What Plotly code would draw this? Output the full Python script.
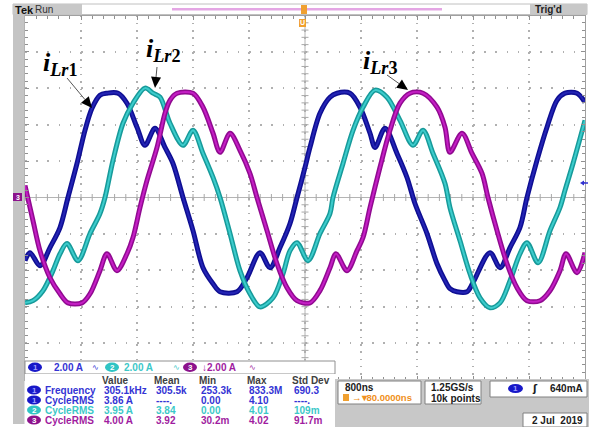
import numpy as np
import plotly.graph_objects as go

# ---------------- data (time in microseconds, current in A) ----------------
t_ch1 = [0.000, 0.071, 0.214, 0.357, 0.500, 0.614, 0.743, 0.857, 0.957, 1.071, 1.171, 1.329,
         1.457, 1.600, 1.714, 1.857, 2.000, 2.114, 2.257, 2.400, 2.543, 2.686, 2.786, 3.029,
         3.171, 3.357, 3.500, 3.643, 3.786, 3.886, 4.000, 4.071, 4.214, 4.357, 4.457, 4.643,
         4.786, 4.929, 5.000, 5.143, 5.314, 5.457, 5.571, 5.743, 5.886, 6.000, 6.071, 6.171,
         6.314, 6.400, 6.643, 6.786, 6.929, 7.071, 7.171, 7.314, 7.457, 7.600, 7.714, 7.886, 8.000]
i_ch1 = [-3.47, -3.03, -3.75, -2.75, -1.65, 0.00, 1.87, 3.69, 4.90, 5.62, 5.73, 5.73,
         5.18, 3.86, 2.87, 3.80, 2.75, 1.87, 0.00, -1.82, -3.86, -4.74, -5.18, -5.18,
         -4.41, -3.03, -3.86, -2.75, -1.43, 0.00, 1.65, 2.75, 4.63, 5.51, 5.73, 5.73,
         4.96, 3.53, 2.75, 3.80, 2.42, 1.10, -0.33, -1.98, -3.64, -4.57, -5.01, -5.18,
         -5.18, -4.68, -3.03, -3.86, -2.75, -1.65, 0.00, 2.04, 3.86, 5.34, 5.73, 5.73, 5.23]

t_ch2 = [0.000, 0.114, 0.257, 0.400, 0.500, 0.600, 0.757, 0.929, 1.071, 1.143, 1.257, 1.400,
         1.543, 1.714, 1.829, 1.929, 2.071, 2.257, 2.400, 2.543, 2.686, 2.786, 2.929, 3.071,
         3.214, 3.357, 3.543, 3.686, 3.786, 3.886, 4.043, 4.214, 4.357, 4.400, 4.543, 4.686,
         4.829, 5.000, 5.171, 5.357, 5.543, 5.686, 5.829, 6.000, 6.071, 6.214, 6.357, 6.500,
         6.643, 6.786, 6.929, 7.071, 7.171, 7.329, 7.500, 7.643, 7.714, 7.829, 8.000]
i_ch2 = [-5.79, -5.67, -5.12, -4.02, -3.09, -2.53, -3.47, -1.98, -0.88, 0.00, 2.04, 4.08,
         5.18, 6.01, 5.73, 5.51, 4.08, 2.87, 3.69, 2.42, 1.10, 0.00, -1.98, -4.02,
         -5.29, -6.01, -5.51, -4.19, -2.92, -2.48, -3.47, -1.98, -0.88, 0.00, 1.87, 3.69,
         4.96, 5.90, 5.51, 4.24, 2.87, 3.69, 2.42, 0.77, -0.55, -2.37, -4.19, -5.51,
         -6.06, -5.79, -4.57, -3.09, -2.48, -3.58, -1.82, -0.55, 0.39, 1.87, 4.24]

t_ch3 = [0.000, 0.114, 0.214, 0.357, 0.500, 0.614, 0.814, 0.929, 1.071, 1.171, 1.314, 1.457,
         1.543, 1.643, 1.743, 1.886, 2.000, 2.071, 2.171, 2.400, 2.543, 2.686, 2.786, 2.929,
         3.071, 3.214, 3.314, 3.457, 3.600, 3.743, 3.886, 4.071, 4.214, 4.357, 4.443, 4.600,
         4.743, 4.829, 4.929, 5.071, 5.214, 5.357, 5.500, 5.686, 5.886, 6.000, 6.071, 6.243,
         6.386, 6.529, 6.614, 6.743, 6.886, 7.029, 7.171, 7.357, 7.500, 7.643, 7.729, 7.886, 8.000]
i_ch3 = [0.66, -1.27, -2.92, -4.41, -5.29, -5.79, -5.79, -5.29, -4.02, -3.09, -4.02, -3.09,
         -2.20, -0.55, 0.94, 2.75, 4.63, 5.34, 5.73, 5.73, 4.96, 3.53, 2.48, 3.53,
         2.59, 1.32, 0.00, -1.82, -3.64, -4.96, -5.67, -5.79, -5.12, -3.86, -3.09, -4.02,
         -2.92, -2.20, -0.55, 1.65, 3.69, 5.18, 5.73, 5.73, 4.96, 3.86, 2.48, 3.53,
         2.42, 1.32, 0.00, -1.82, -3.64, -4.96, -5.67, -5.67, -5.12, -4.02, -3.09, -4.13, -3.03]

labels = ["<b><i>i</i><sub><i>Lr</i>1</sub></b>",
          "<b><i>i</i><sub><i>Lr</i>2</sub></b>",
          "<b><i>i</i><sub><i>Lr</i>3</sub></b>"]

scale_text = ["2.00 A", "2.00 A", "\u21932.00 A"]
meas_header = ["Value", "Mean", "Min", "Max", "Std Dev"]
meas_names = ["Frequency", "CycleRMS", "CycleRMS", "CycleRMS"]
meas_chan = [1, 1, 2, 3]
meas_rows = [["305.1kHz", "305.5k", "253.3k", "833.3M", "690.3"],
             ["3.86 A", "----.", "0.00", "4.10", "----."],
             ["3.95 A", "3.84", "0.00", "4.01", "109m"],
             ["4.00 A", "3.92", "30.2m", "4.02", "91.7m"]]
time_div = "800ns"
trig_pos = "80.0000ns"
sample_rate = "1.25GS/s"
record_len = "10k points"
trig_level = "640mA"
date_text = "2 Jul\u00a0\u00a02019"

# ---------------- styling ----------------
W, H = 589, 427
def px(x): return x / W
def py(y): return 1 - y / H

OUTER = {1: "#0e0e92", 2: "#179a9a", 3: "#900a90"}
INNER = {1: "#2424b4", 2: "#3ccccc", 3: "#c41ec4"}
TXT = {1: "#3434d4", 2: "#3cc8c8", 3: "#a01ca0"}
PILL = {1: "#1818c8", 2: "#30c4c4", 3: "#8c128c"}

fig = go.Figure()

# centre cross tick marks (graticule decoration)
xt = np.arange(0, 8.001, 0.16)
yt = np.arange(-10, 10.001, 0.4)
fig.add_trace(go.Scatter(x=xt, y=np.zeros_like(xt), mode="markers",
                         marker=dict(symbol="line-ns-open", size=5, color="#a8a8a8",
                                     line=dict(color="#a8a8a8", width=1)),
                         hoverinfo="skip", showlegend=False))
fig.add_trace(go.Scatter(x=np.full_like(yt, 4.0), y=yt, mode="markers",
                         marker=dict(symbol="line-ew-open", size=5, color="#a8a8a8",
                                     line=dict(color="#a8a8a8", width=1)),
                         hoverinfo="skip", showlegend=False))

for ch, t, i in [(1, t_ch1, i_ch1), (2, t_ch2, i_ch2), (3, t_ch3, i_ch3)]:
    fig.add_trace(go.Scatter(x=t, y=i, mode="lines",
                             line=dict(color=OUTER[ch], width=5, shape="spline", smoothing=0.9),
                             hoverinfo="skip", showlegend=False))
    fig.add_trace(go.Scatter(x=t, y=i, mode="lines",
                             line=dict(color=INNER[ch], width=2, shape="spline", smoothing=0.9),
                             hoverinfo="skip", showlegend=False))

shapes = []
def rect(x0, y0, x1, y1, fill, line="rgba(0,0,0,0)", lw=1):
    shapes.append(dict(type="rect", xref="paper", yref="paper", x0=px(x0), x1=px(x1),
                       y0=py(y1), y1=py(y0), fillcolor=fill, line=dict(color=line, width=lw),
                       layer="above"))
def ell(x0, y0, x1, y1, fill):
    shapes.append(dict(type="circle", xref="paper", yref="paper", x0=px(x0), x1=px(x1),
                       y0=py(y1), y1=py(y0), fillcolor=fill, line=dict(width=0), layer="above"))

ann = []
def txt(x, y, s, color, size=10, bold=True, family="Liberation Sans", xanchor="left"):
    ann.append(dict(x=px(x), y=py(y), xref="paper", yref="paper", text=s, showarrow=False,
                    xanchor=xanchor, yanchor="middle",
                    font=dict(family=family, size=size, color=color,
                              weight="bold" if bold else "normal")))

# centre vertical line
shapes.append(dict(type="line", xref="x", yref="y", x0=4, x1=4, y0=-10, y1=10,
                   line=dict(color="#b4b4b4", width=1), layer="below"))

# ---- top status bar ----
rect(13, 4, 587, 14.5, "#ffffff", "#c0c0c0", 1)
rect(13, 4, 82, 14.5, "#c8c8c8")
rect(530, 4, 587, 14.5, "#c8c8c8")
rect(172, 8, 442, 10.5, "#e4a6e4")
txt(13, 9.5, "Tek", "#111111", 11, True)
txt(33, 9.5, "Run", "#333333", 10, False)
txt(533, 9.5, "Trig'd", "#222222", 10, True)
rect(301, 5, 307, 14, "#f0a030")
rect(299, 19, 306, 27, "#f0a030")
txt(302.5, 23, "U", "#ffffff", 7, True, xanchor="center")

# ---- left strip and markers ----
rect(13, 15, 24.5, 424, "#c4c4c4")
rect(13, 193, 22, 201, PILL[3])
txt(17.5, 197, "3", "#ffffff", 7, True, xanchor="center")
shapes.append(dict(type="path", xref="paper", yref="paper", layer="above",
                   path=f"M {px(580)} {py(183)} L {px(584)} {py(180.5)} L {px(584)} {py(185.5)} Z",
                   fillcolor="#3030d0", line=dict(width=0)))
shapes.append(dict(type="line", xref="paper", yref="paper", layer="above",
                   x0=px(583), x1=px(588), y0=py(183), y1=py(183), line=dict(color="#3030d0", width=1.5)))

# ---- channel scale bar ----
rect(25, 361, 335, 374, "#ffffff", "#909090", 1)
pill_x = [28, 105, 183]
scale_x = [52, 122, 200]
sym_x = [90, 171, 247]
for k, ch in enumerate([1, 2, 3]):
    ell(pill_x[k], 362.5, pill_x[k] + 14, 372, PILL[ch])
    txt(pill_x[k] + 7, 367.5, str(ch), "#ffffff" if ch != 1 else "#a0a0ff", 8, True, xanchor="center")
    txt(scale_x[k], 367.5, scale_text[k], TXT[ch], 10, True)
    txt(sym_x[k], 367.5, "\u223f", TXT[ch], 8, False, "DejaVu Sans")

# ---- measurement table ----
rect(25, 374, 335, 424, "#ffffff")
col_x = [100, 152, 197, 245, 290]
for c, h in enumerate(meas_header):
    txt(col_x[c], 380, h, "#404040", 10, True)
row_y = [390, 400, 410, 420]
for r in range(4):
    ch = meas_chan[r]
    ell(27, row_y[r] - 4.5, 41, row_y[r] + 4.5, PILL[ch])
    txt(34, row_y[r], str(ch), "#ffffff" if ch != 1 else "#a0a0ff", 8, True, xanchor="center")
    txt(43, row_y[r], meas_names[r], TXT[ch], 10, True)
    for c in range(5):
        txt(col_x[c] + 2, row_y[r], meas_rows[r][c], TXT[ch], 10, True)

# ---- bottom right info area ----
rect(335, 379, 589, 427, "#c8c8c8")
rect(338, 381, 421, 404, "#ffffff", "#808080", 1)
rect(425, 381, 481, 404, "#ffffff", "#808080", 1)
rect(490, 381, 587, 397, "#ffffff", "#808080", 1)
rect(523, 413, 587, 427, "#ffffff", "#808080", 1)
txt(343, 387, time_div, "#202020", 10, True)
rect(343, 394, 349, 401, "#f0a030")
txt(350, 397.5, "\u2192\u25be" + trig_pos, "#f09020", 9.5, True)
txt(429, 387, sample_rate, "#202020", 10, True)
txt(429, 398, record_len, "#202020", 10, True)
ell(508, 384, 523, 393, PILL[1])
txt(515.5, 388.5, "1", "#a0a0ff", 8, True, xanchor="center")
txt(530, 388.5, "\u0283", "#202020", 10, True, "DejaVu Sans")
txt(585, 388.5, trig_level, "#202020", 10, True, xanchor="right")
txt(585, 420, date_text, "#202020", 10, True, xanchor="right")

# ---- waveform labels and arrows ----
label_pos = [(41, 64), (144, 50), (361, 62)]
for k in range(3):
    ann.append(dict(x=px(label_pos[k][0]), y=py(label_pos[k][1]), xref="paper", yref="paper",
                    text=labels[k], showarrow=False, xanchor="left", yanchor="middle",
                    font=dict(family="Liberation Serif", size=26, color="#000000")))

arrows = [((92, 108), (67, 78)), ((155, 88), (157, 67)), ((408, 90), (387, 75))]
for (tx, ty), (sx, sy) in arrows:
    dx, dy = tx - sx, ty - sy
    L = (dx * dx + dy * dy) ** 0.5
    ux, uy = dx / L, dy / L
    hl, hw = 11.0, 5.0
    bx, by = tx - ux * hl, ty - uy * hl
    shapes.append(dict(type="line", xref="paper", yref="paper", layer="above",
                       x0=px(sx), y0=py(sy), x1=px(bx), y1=py(by),
                       line=dict(color="#555555", width=1)))
    p1 = (bx - uy * hw, by + ux * hw)
    p2 = (bx + uy * hw, by - ux * hw)
    shapes.append(dict(type="path", xref="paper", yref="paper", layer="above",
                       path=f"M {px(tx)} {py(ty)} L {px(p1[0])} {py(p1[1])} L {px(p2[0])} {py(p2[1])} Z",
                       fillcolor="#000000", line=dict(width=0)))

fig.update_layout(
    width=W, height=H, margin=dict(l=0, r=0, t=0, b=0),
    paper_bgcolor="#ffffff", plot_bgcolor="#ffffff",
    showlegend=False, shapes=shapes, annotations=ann,
    xaxis=dict(domain=[px(25), px(585)], range=[0, 8], dtick=0.8, tick0=0,
               showgrid=True, gridcolor="#b0b0b0", gridwidth=1.5, griddash="1.5px,5.8px",
               zeroline=False, showticklabels=False, showline=True, linecolor="#a0a0a0",
               linewidth=1, mirror="allticks", ticks="inside", ticklen=4, tickcolor="#909090",
               minor=dict(dtick=0.16, ticks="inside", ticklen=3, tickcolor="#909090", showgrid=False),
               fixedrange=True),
    yaxis=dict(domain=[py(379.5), py(15.5)], range=[-10, 10], dtick=2, tick0=0,
               showgrid=True, gridcolor="#b0b0b0", gridwidth=1.5, griddash="1.5px,9.7px",
               zeroline=True, zerolinecolor="#b4b4b4", zerolinewidth=1,
               showticklabels=False, showline=True, linecolor="#a0a0a0",
               linewidth=1, mirror="allticks", ticks="inside", ticklen=4, tickcolor="#909090",
               minor=dict(dtick=0.4, ticks="inside", ticklen=3, tickcolor="#909090", showgrid=False),
               fixedrange=True),
)

fig.write_html("out.html")
